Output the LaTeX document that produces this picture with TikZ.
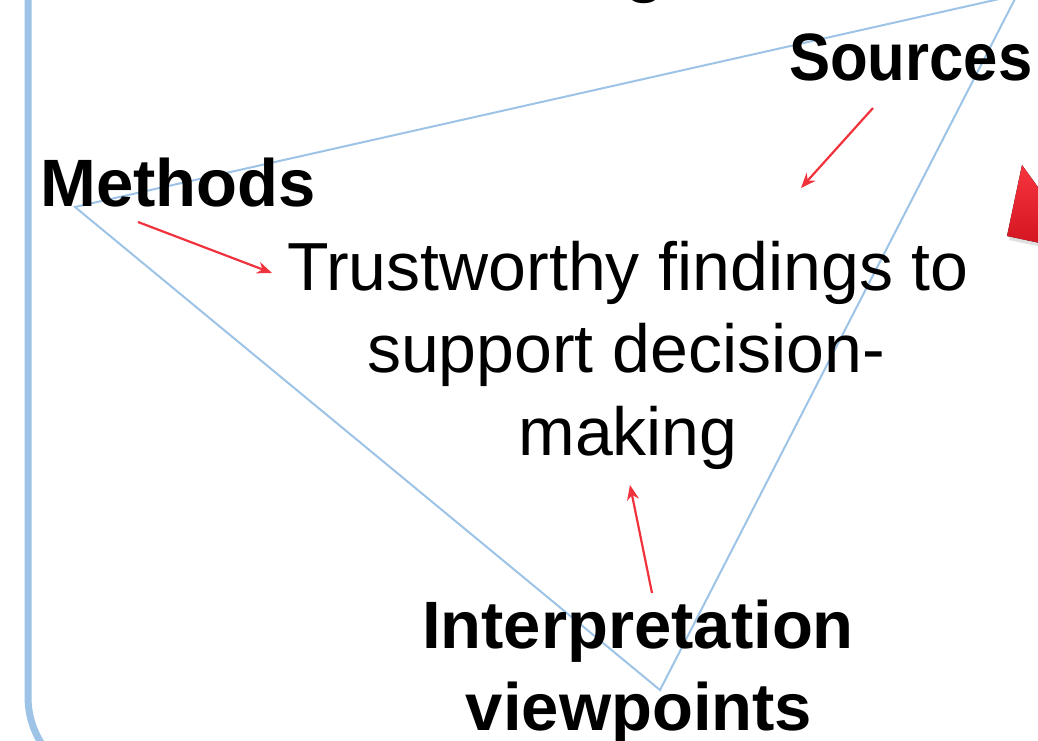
\documentclass[tikz,border=0pt]{standalone}
\usepackage{fontspec}
\setmainfont{Liberation Sans}
\usetikzlibrary{arrows.meta,shadows}
\definecolor{frameblue}{RGB}{157,195,230}
\definecolor{arrred}{RGB}{240,50,60}
\definecolor{shapetop}{RGB}{246,52,62}
\definecolor{shapebot}{RGB}{212,22,34}
\tikzset{
  lbl/.style={inner sep=0pt, font=\fontsize{67}{80}\selectfont\bfseries},
  body/.style={inner sep=0pt, font=\fontsize{68}{83}\selectfont},
  redarr/.style={draw=arrred, line width=2.2pt, -{Stealth[length=15pt,width=12pt]}},
  tri/.style={draw=frameblue, line width=2pt, line join=miter},
}
\begin{document}
\begin{tikzpicture}[x=1pt,y=-1pt]
\useasboundingbox (0,0) rectangle (1038,741);
\clip (0,0) rectangle (1038,741);
% frame
\draw[frameblue, line width=7pt, rounded corners=87pt] (28,-200) rectangle (1300,784);
% heading fragment
\node[lbl, anchor=base west] (head) at (624,-10) {g};
% triangle
\coordinate (vM) at (75,207);
\coordinate (vS) at (1017,-5);
\coordinate (vI) at (660,690);
\draw[tri] (vM) -- (vS) -- (vI) -- cycle;
% labels
\node[lbl, anchor=base west] (M) at (40,206) {Methods};
\node[lbl, anchor=base west] (S) at (789,81) {\scalebox{0.92}[1]{Sources}};
\node[lbl, anchor=base] (I1) at (638,648) {Interpretation};
\node[lbl, anchor=base] (I2) at (639,730) {viewpoints};
% central text
\node[body, anchor=base] (T1) at (628,290) {Trustworthy findings to};
\node[body, anchor=base] (T2) at (626,372) {support decision-};
\node[body, anchor=base] (T3) at (628,455) {making};
% arrows
\coordinate (a1s) at (138,222);
\coordinate (a1e) at (272,273);
\coordinate (a2s) at (873,108);
\coordinate (a2e) at (801,188);
\coordinate (a3s) at (652,593);
\coordinate (a3e) at (630,485);
\draw[redarr] (a1s) -- (a1e);
\draw[redarr] (a2s) -- (a2e);
\draw[redarr] (a3s) -- (a3e);
% red block arrow fragment
\fill[top color=shapetop, bottom color=shapebot, drop shadow={opacity=0.25, shadow xshift=2pt, shadow yshift=-4pt}]
  (1022,165) -- (1040,190) -- (1040,243) -- (1007,236) -- cycle;
\end{tikzpicture}
\end{document}
